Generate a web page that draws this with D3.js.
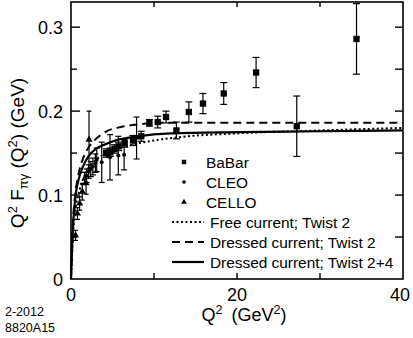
<!DOCTYPE html>
<html><head><meta charset="utf-8">
<script src="https://cdn.jsdelivr.net/npm/d3@7"></script>
<style>
html,body{margin:0;padding:0;background:#fff;}
text{font-family:"Liberation Sans",Arial,Helvetica,sans-serif;fill:#000;}
</style></head>
<body><svg id="c" width="413" height="338"></svg>
<script>
// ---- data ----
const babarQ2  = [4.24,4.74,5.24,5.74,6.47,7.47,8.46,9.45,10.45,11.45,12.70,14.20,15.90,18.40,22.30,27.20,34.40];
const babarF   = [0.150,0.151,0.155,0.158,0.162,0.165,0.170,0.186,0.187,0.193,0.177,0.199,0.209,0.221,0.246,0.182,0.286];
const babarErr = [0.005,0.005,0.005,0.005,0.005,0.006,0.006,0.004,0.007,0.007,0.010,0.012,0.012,0.013,0.018,0.036,0.042];

const cleoQ2  = [1.64,1.88,2.13,2.38,2.64,2.94,3.10,3.70,4.70,5.70,6.40,7.90];
const cleoF   = [0.120,0.123,0.128,0.131,0.134,0.138,0.142,0.139,0.145,0.147,0.148,0.168];
const cleoErr = [0.007,0.008,0.008,0.009,0.010,0.011,0.014,0.024,0.027,0.023,0.018,0.025];

const celloQ2  = [0.54,0.77,1.04,1.36,1.82,2.17];
const celloF   = [0.052,0.078,0.090,0.104,0.114,0.166];
const celloErr = [0.006,0.007,0.008,0.010,0.013,0.034];

const freeTw2Q2 = [0,0.2,0.5,1,1.5,2.2,3,4.5,7,10,13,20,30,40];
const freeTw2F  = [0,0.045,0.080,0.105,0.120,0.133,0.142,0.151,0.159,0.165,0.169,0.1735,0.177,0.180];
const dressTw2Q2 = [0,0.2,0.5,0.8,1.1,1.5,2,2.7,3.5,4.5,6,8,11,20,40];
const dressTw2F  = [0,0.060,0.100,0.120,0.133,0.145,0.155,0.164,0.171,0.177,0.181,0.184,0.186,0.186,0.186];
const dressTw24Q2 = [0,0.2,0.5,0.9,1.4,2.1,3,4,5.7,8,12,20,30,40];
const dressTw24F  = [0,0.055,0.095,0.118,0.133,0.146,0.155,0.160,0.166,0.170,0.1735,0.175,0.176,0.177];

const xTickLabels = [0,20,40];
const yTickLabels = [0,0.1,0.2,0.3];
const legendItems = ["BaBar","CLEO","CELLO","Free current; Twist 2","Dressed current; Twist 2","Dressed current; Twist 2+4"];

// ---- layout ----
const L=71, R=403, T=2, B=279;
const x = d3.scaleLinear().domain([0,40]).range([L,R]);
const y = d3.scaleLinear().domain([0,0.33]).range([B,T]);
const svg = d3.select("#c");

// frame
svg.append("rect").attr("x",L).attr("y",T).attr("width",R-L).attr("height",B-T)
  .attr("fill","none").attr("stroke","#000").attr("stroke-width",1.6);

// ticks
const g = svg.append("g").attr("stroke","#000").attr("stroke-width",1.4);
d3.range(0.05,0.33,0.05).forEach((v,i)=>{
  const major = Math.abs(v*10-Math.round(v*10))<1e-6;
  const len = major?9:6;
  g.append("line").attr("x1",L).attr("x2",L+len).attr("y1",y(v)).attr("y2",y(v));
  g.append("line").attr("x1",R).attr("x2",R-8).attr("y1",y(v)).attr("y2",y(v));
});
[10,20,30].forEach(v=>{
  g.append("line").attr("x1",x(v)).attr("x2",x(v)).attr("y1",B).attr("y2",B-6);
  g.append("line").attr("x1",x(v)).attr("x2",x(v)).attr("y1",T).attr("y2",T+5);
});

// tick labels
svg.selectAll(".yl").data(yTickLabels).enter().append("text")
  .attr("x",63).attr("y",d=>y(d)+6.5).attr("text-anchor","end").attr("font-size",18)
  .text(d=>d===0?"0":d.toFixed(1));
svg.selectAll(".xl").data(xTickLabels).enter().append("text")
  .attr("x",d=>d===40?x(d)-3:x(d)).attr("y",301).attr("text-anchor","middle").attr("font-size",18)
  .text(d=>d);

// axis titles
const xt = svg.append("text").attr("x",244).attr("y",321).attr("text-anchor","middle").attr("font-size",18);
xt.append("tspan").text("Q");
xt.append("tspan").attr("dy",-7).attr("font-size",12.5).text("2");
xt.append("tspan").attr("dy",7).text("\u2002(GeV");
xt.append("tspan").attr("dy",-7).attr("font-size",12.5).text("2");
xt.append("tspan").attr("dy",7).text(")");

const yt = svg.append("text").attr("transform","translate(24,153) rotate(-90)")
  .attr("text-anchor","middle").attr("font-size",19);
yt.append("tspan").text("Q");
yt.append("tspan").attr("dy",-7.5).attr("font-size",13).text("2");
yt.append("tspan").attr("dy",7.5).text(" F");
yt.append("tspan").attr("dy",4).attr("font-size",13).text("\u03c0\u03b3");
yt.append("tspan").attr("dy",-4).text(" (Q");
yt.append("tspan").attr("dy",-7.5).attr("font-size",13).text("2");
yt.append("tspan").attr("dy",7.5).text(") (GeV)");

svg.append("text").attr("x",5).attr("y",316).attr("font-size",12.5).text("2-2012");
svg.append("text").attr("x",5).attr("y",332).attr("font-size",12.5).text("8820A15");

// curves
const line = d3.line().x(d=>x(d[0])).y(d=>y(d[1])).curve(d3.curveMonotoneX);
const plot = svg.append("g");
plot.append("path").attr("d",line(d3.zip(freeTw2Q2,freeTw2F)))
  .attr("fill","none").attr("stroke","#000").attr("stroke-width",2).attr("stroke-dasharray","2,2.5");
plot.append("path").attr("d",line(d3.zip(dressTw2Q2,dressTw2F)))
  .attr("fill","none").attr("stroke","#000").attr("stroke-width",2).attr("stroke-dasharray","8,5");
plot.append("path").attr("d",line(d3.zip(dressTw24Q2,dressTw24F)))
  .attr("fill","none").attr("stroke","#000").attr("stroke-width",2.2);

// error bars
function errBars(qs,fs,es,cap){
  const eg = plot.append("g").attr("stroke","#000").attr("stroke-width",1.2);
  qs.forEach((q,i)=>{
    const xx=x(q), y1=y(fs[i]+es[i]), y2=y(fs[i]-es[i]);
    eg.append("line").attr("x1",xx).attr("x2",xx).attr("y1",y1).attr("y2",y2);
    eg.append("line").attr("x1",xx-cap).attr("x2",xx+cap).attr("y1",y1).attr("y2",y1);
    eg.append("line").attr("x1",xx-cap).attr("x2",xx+cap).attr("y1",y2).attr("y2",y2);
  });
}
errBars(celloQ2,celloF,celloErr,2.5);
errBars(cleoQ2,cleoF,cleoErr,3);
errBars(babarQ2,babarF,babarErr,3.5);

// markers
const sq = d3.symbol().type(d3.symbolSquare).size(40);
const tri = d3.symbol().type(d3.symbolTriangle).size(22);
plot.selectAll(".cello").data(d3.zip(celloQ2,celloF)).enter().append("path")
  .attr("d",tri).attr("transform",d=>`translate(${x(d[0])},${y(d[1])})`).attr("fill","#000");
plot.selectAll(".cleo").data(d3.zip(cleoQ2,cleoF)).enter().append("circle")
  .attr("cx",d=>x(d[0])).attr("cy",d=>y(d[1])).attr("r",2).attr("fill","#000");
plot.selectAll(".babar").data(d3.zip(babarQ2,babarF)).enter().append("path")
  .attr("d",sq).attr("transform",d=>`translate(${x(d[0])},${y(d[1])})`).attr("fill","#000");

// legend
const lg = svg.append("g");
const rows=[162,182,202,222,242,262];
lg.append("path").attr("d",d3.symbol().type(d3.symbolSquare).size(20)).attr("transform",`translate(184,${rows[0]})`);
lg.append("circle").attr("cx",184).attr("cy",rows[1]).attr("r",1.8);
lg.append("path").attr("d",d3.symbol().type(d3.symbolTriangle).size(14)).attr("transform",`translate(184,${rows[2]})`);
[["2,2.5",2],["8,5",2],[null,2.2]].forEach((s,i)=>{
  const ln = lg.append("line").attr("x1",172).attr("x2",204).attr("y1",rows[3+i]).attr("y2",rows[3+i])
    .attr("stroke","#000").attr("stroke-width",s[1]);
  if(s[0]) ln.attr("stroke-dasharray",s[0]);
});
legendItems.forEach((t,i)=>{
  lg.append("text").attr("x",i<3?206:210).attr("y",rows[i]+5.5).attr("font-size",15.4).text(t);
});
</script></body></html>
